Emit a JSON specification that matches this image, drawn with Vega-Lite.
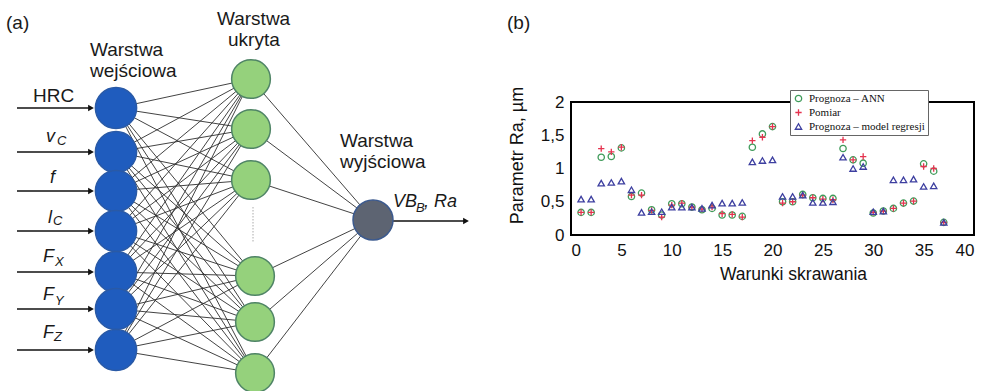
{
  "$schema": "https://vega.github.io/schema/vega-lite/v6.json",
  "padding": 0,
  "background": "white",
  "spacing": 0,
  "bounds": "flush",
  "config": {"view": {"stroke": null}, "font": "Liberation Sans"},
  "datasets": {
    "nodes": [
      {"layer": "in", "x": 116, "y": 108}, {"layer": "in", "x": 116, "y": 152}, {"layer": "in", "x": 116, "y": 191},
      {"layer": "in", "x": 116, "y": 231}, {"layer": "in", "x": 116, "y": 272}, {"layer": "in", "x": 116, "y": 309},
      {"layer": "in", "x": 116, "y": 350},
      {"layer": "hid", "x": 251, "y": 79}, {"layer": "hid", "x": 251, "y": 129}, {"layer": "hid", "x": 251, "y": 180},
      {"layer": "hid", "x": 255, "y": 276}, {"layer": "hid", "x": 255, "y": 322}, {"layer": "hid", "x": 255, "y": 373},
      {"layer": "out", "x": 373, "y": 220}
    ],
    "edges": [
      {"x": 116, "y": 108, "x2": 251, "y2": 79}, {"x": 116, "y": 108, "x2": 251, "y2": 129}, {"x": 116, "y": 108, "x2": 251, "y2": 180}, {"x": 116, "y": 108, "x2": 255, "y2": 276}, {"x": 116, "y": 108, "x2": 255, "y2": 322}, {"x": 116, "y": 108, "x2": 255, "y2": 373},
      {"x": 116, "y": 152, "x2": 251, "y2": 79}, {"x": 116, "y": 152, "x2": 251, "y2": 129}, {"x": 116, "y": 152, "x2": 251, "y2": 180}, {"x": 116, "y": 152, "x2": 255, "y2": 276}, {"x": 116, "y": 152, "x2": 255, "y2": 322}, {"x": 116, "y": 152, "x2": 255, "y2": 373},
      {"x": 116, "y": 191, "x2": 251, "y2": 79}, {"x": 116, "y": 191, "x2": 251, "y2": 129}, {"x": 116, "y": 191, "x2": 251, "y2": 180}, {"x": 116, "y": 191, "x2": 255, "y2": 276}, {"x": 116, "y": 191, "x2": 255, "y2": 322}, {"x": 116, "y": 191, "x2": 255, "y2": 373},
      {"x": 116, "y": 231, "x2": 251, "y2": 79}, {"x": 116, "y": 231, "x2": 251, "y2": 129}, {"x": 116, "y": 231, "x2": 251, "y2": 180}, {"x": 116, "y": 231, "x2": 255, "y2": 276}, {"x": 116, "y": 231, "x2": 255, "y2": 322}, {"x": 116, "y": 231, "x2": 255, "y2": 373},
      {"x": 116, "y": 272, "x2": 251, "y2": 79}, {"x": 116, "y": 272, "x2": 251, "y2": 129}, {"x": 116, "y": 272, "x2": 251, "y2": 180}, {"x": 116, "y": 272, "x2": 255, "y2": 276}, {"x": 116, "y": 272, "x2": 255, "y2": 322}, {"x": 116, "y": 272, "x2": 255, "y2": 373},
      {"x": 116, "y": 309, "x2": 251, "y2": 79}, {"x": 116, "y": 309, "x2": 251, "y2": 129}, {"x": 116, "y": 309, "x2": 251, "y2": 180}, {"x": 116, "y": 309, "x2": 255, "y2": 276}, {"x": 116, "y": 309, "x2": 255, "y2": 322}, {"x": 116, "y": 309, "x2": 255, "y2": 373},
      {"x": 116, "y": 350, "x2": 251, "y2": 79}, {"x": 116, "y": 350, "x2": 251, "y2": 129}, {"x": 116, "y": 350, "x2": 251, "y2": 180}, {"x": 116, "y": 350, "x2": 255, "y2": 276}, {"x": 116, "y": 350, "x2": 255, "y2": 322}, {"x": 116, "y": 350, "x2": 255, "y2": 373},
      {"x": 251, "y": 79, "x2": 373, "y2": 220}, {"x": 251, "y": 129, "x2": 373, "y2": 220}, {"x": 251, "y": 180, "x2": 373, "y2": 220},
      {"x": 255, "y": 276, "x2": 373, "y2": 220}, {"x": 255, "y": 322, "x2": 373, "y2": 220}, {"x": 255, "y": 373, "x2": 373, "y2": 220}
    ],
    "arrows": [
      {"x": 17, "y": 108, "x2": 90}, {"x": 17, "y": 152, "x2": 90}, {"x": 17, "y": 191, "x2": 90}, {"x": 17, "y": 231, "x2": 90},
      {"x": 17, "y": 272, "x2": 90}, {"x": 17, "y": 309, "x2": 90}, {"x": 17, "y": 350, "x2": 90}, {"x": 393, "y": 221, "x2": 464}
    ],
    "heads": [
      {"x": 91, "y": 108}, {"x": 91, "y": 152}, {"x": 91, "y": 191}, {"x": 91, "y": 231},
      {"x": 91, "y": 272}, {"x": 91, "y": 309}, {"x": 91, "y": 350}, {"x": 466, "y": 221}
    ],
    "dots": [{"x": 253, "y": 207, "y2": 243}],
    "upright": [
      {"x": 6, "y": 29, "t": "(a)"}, {"x": 507, "y": 29, "t": "(b)"},
      {"x": 90, "y": 56, "t": "Warstwa"}, {"x": 90, "y": 77, "t": "wejściowa"},
      {"x": 217, "y": 25, "t": "Warstwa"}, {"x": 228, "y": 46, "t": "ukryta"},
      {"x": 340, "y": 147, "t": "Warstwa"}, {"x": 340, "y": 168, "t": "wyjściowa"},
      {"x": 33, "y": 102, "t": "HRC"}
    ],
    "italic": [
      {"x": 46, "y": 142, "t": "v"}, {"x": 50, "y": 183, "t": "f"}, {"x": 48, "y": 223, "t": "l"},
      {"x": 43, "y": 262, "t": "F"}, {"x": 43, "y": 300, "t": "F"}, {"x": 43, "y": 338, "t": "F"},
      {"x": 393, "y": 207, "t": "VB"}, {"x": 424, "y": 207, "t": ", Ra"}
    ],
    "subs": [
      {"x": 57, "y": 145, "t": "C"}, {"x": 53, "y": 225, "t": "C"}, {"x": 55, "y": 266, "t": "X"},
      {"x": 55, "y": 305, "t": "Y"}, {"x": 54, "y": 341, "t": "Z"}, {"x": 416, "y": 212, "t": "B"}
    ],
    "xticks": [{"w": 5}, {"w": 10}, {"w": 15}, {"w": 20}, {"w": 25}, {"w": 30}, {"w": 35}],
    "yticks": [{"ra": 0.5}, {"ra": 1}, {"ra": 1.5}],
    "ra": [
      {"w": 1, "ra": 0.34, "s": "Prognoza – ANN"}, {"w": 2, "ra": 0.34, "s": "Prognoza – ANN"}, {"w": 3, "ra": 1.17, "s": "Prognoza – ANN"}, {"w": 4, "ra": 1.18, "s": "Prognoza – ANN"}, {"w": 5, "ra": 1.31, "s": "Prognoza – ANN"},
      {"w": 6, "ra": 0.58, "s": "Prognoza – ANN"}, {"w": 7, "ra": 0.63, "s": "Prognoza – ANN"}, {"w": 8, "ra": 0.38, "s": "Prognoza – ANN"}, {"w": 9, "ra": 0.30, "s": "Prognoza – ANN"}, {"w": 10, "ra": 0.47, "s": "Prognoza – ANN"},
      {"w": 11, "ra": 0.47, "s": "Prognoza – ANN"}, {"w": 12, "ra": 0.42, "s": "Prognoza – ANN"}, {"w": 13, "ra": 0.38, "s": "Prognoza – ANN"}, {"w": 14, "ra": 0.40, "s": "Prognoza – ANN"}, {"w": 15, "ra": 0.30, "s": "Prognoza – ANN"},
      {"w": 16, "ra": 0.30, "s": "Prognoza – ANN"}, {"w": 17, "ra": 0.28, "s": "Prognoza – ANN"}, {"w": 18, "ra": 1.32, "s": "Prognoza – ANN"}, {"w": 19, "ra": 1.52, "s": "Prognoza – ANN"}, {"w": 20, "ra": 1.63, "s": "Prognoza – ANN"},
      {"w": 21, "ra": 0.50, "s": "Prognoza – ANN"}, {"w": 22, "ra": 0.50, "s": "Prognoza – ANN"}, {"w": 23, "ra": 0.61, "s": "Prognoza – ANN"}, {"w": 24, "ra": 0.56, "s": "Prognoza – ANN"}, {"w": 25, "ra": 0.55, "s": "Prognoza – ANN"},
      {"w": 26, "ra": 0.55, "s": "Prognoza – ANN"}, {"w": 27, "ra": 1.30, "s": "Prognoza – ANN"}, {"w": 28, "ra": 1.13, "s": "Prognoza – ANN"}, {"w": 29, "ra": 1.08, "s": "Prognoza – ANN"}, {"w": 30, "ra": 0.33, "s": "Prognoza – ANN"},
      {"w": 31, "ra": 0.36, "s": "Prognoza – ANN"}, {"w": 32, "ra": 0.40, "s": "Prognoza – ANN"}, {"w": 33, "ra": 0.48, "s": "Prognoza – ANN"}, {"w": 34, "ra": 0.51, "s": "Prognoza – ANN"}, {"w": 35, "ra": 1.07, "s": "Prognoza – ANN"},
      {"w": 36, "ra": 0.96, "s": "Prognoza – ANN"}, {"w": 37, "ra": 0.19, "s": "Prognoza – ANN"},
      {"w": 1, "ra": 0.34, "s": "Pomiar"}, {"w": 2, "ra": 0.34, "s": "Pomiar"}, {"w": 3, "ra": 1.30, "s": "Pomiar"}, {"w": 4, "ra": 1.25, "s": "Pomiar"}, {"w": 5, "ra": 1.32, "s": "Pomiar"},
      {"w": 6, "ra": 0.60, "s": "Pomiar"}, {"w": 7, "ra": 0.60, "s": "Pomiar"}, {"w": 8, "ra": 0.37, "s": "Pomiar"}, {"w": 9, "ra": 0.27, "s": "Pomiar"}, {"w": 10, "ra": 0.45, "s": "Pomiar"},
      {"w": 11, "ra": 0.48, "s": "Pomiar"}, {"w": 12, "ra": 0.42, "s": "Pomiar"}, {"w": 13, "ra": 0.39, "s": "Pomiar"}, {"w": 14, "ra": 0.42, "s": "Pomiar"}, {"w": 15, "ra": 0.32, "s": "Pomiar"},
      {"w": 16, "ra": 0.31, "s": "Pomiar"}, {"w": 17, "ra": 0.27, "s": "Pomiar"}, {"w": 18, "ra": 1.42, "s": "Pomiar"}, {"w": 19, "ra": 1.47, "s": "Pomiar"}, {"w": 20, "ra": 1.63, "s": "Pomiar"},
      {"w": 21, "ra": 0.48, "s": "Pomiar"}, {"w": 22, "ra": 0.50, "s": "Pomiar"}, {"w": 23, "ra": 0.60, "s": "Pomiar"}, {"w": 24, "ra": 0.56, "s": "Pomiar"}, {"w": 25, "ra": 0.54, "s": "Pomiar"},
      {"w": 26, "ra": 0.53, "s": "Pomiar"}, {"w": 27, "ra": 1.43, "s": "Pomiar"}, {"w": 28, "ra": 1.13, "s": "Pomiar"}, {"w": 29, "ra": 1.18, "s": "Pomiar"}, {"w": 30, "ra": 0.34, "s": "Pomiar"},
      {"w": 31, "ra": 0.36, "s": "Pomiar"}, {"w": 32, "ra": 0.40, "s": "Pomiar"}, {"w": 33, "ra": 0.48, "s": "Pomiar"}, {"w": 34, "ra": 0.51, "s": "Pomiar"}, {"w": 35, "ra": 1.03, "s": "Pomiar"},
      {"w": 36, "ra": 1.00, "s": "Pomiar"}, {"w": 37, "ra": 0.19, "s": "Pomiar"},
      {"w": 1, "ra": 0.54, "s": "Prognoza – model regresji"}, {"w": 2, "ra": 0.54, "s": "Prognoza – model regresji"}, {"w": 3, "ra": 0.78, "s": "Prognoza – model regresji"}, {"w": 4, "ra": 0.79, "s": "Prognoza – model regresji"}, {"w": 5, "ra": 0.81, "s": "Prognoza – model regresji"},
      {"w": 6, "ra": 0.68, "s": "Prognoza – model regresji"}, {"w": 7, "ra": 0.34, "s": "Prognoza – model regresji"}, {"w": 8, "ra": 0.35, "s": "Prognoza – model regresji"}, {"w": 9, "ra": 0.35, "s": "Prognoza – model regresji"}, {"w": 10, "ra": 0.42, "s": "Prognoza – model regresji"},
      {"w": 11, "ra": 0.42, "s": "Prognoza – model regresji"}, {"w": 12, "ra": 0.42, "s": "Prognoza – model regresji"}, {"w": 13, "ra": 0.40, "s": "Prognoza – model regresji"}, {"w": 14, "ra": 0.45, "s": "Prognoza – model regresji"}, {"w": 15, "ra": 0.48, "s": "Prognoza – model regresji"},
      {"w": 16, "ra": 0.48, "s": "Prognoza – model regresji"}, {"w": 17, "ra": 0.49, "s": "Prognoza – model regresji"}, {"w": 18, "ra": 1.10, "s": "Prognoza – model regresji"}, {"w": 19, "ra": 1.12, "s": "Prognoza – model regresji"}, {"w": 20, "ra": 1.13, "s": "Prognoza – model regresji"},
      {"w": 21, "ra": 0.58, "s": "Prognoza – model regresji"}, {"w": 22, "ra": 0.58, "s": "Prognoza – model regresji"}, {"w": 23, "ra": 0.60, "s": "Prognoza – model regresji"}, {"w": 24, "ra": 0.49, "s": "Prognoza – model regresji"}, {"w": 25, "ra": 0.49, "s": "Prognoza – model regresji"},
      {"w": 26, "ra": 0.50, "s": "Prognoza – model regresji"}, {"w": 27, "ra": 1.17, "s": "Prognoza – model regresji"}, {"w": 28, "ra": 1.00, "s": "Prognoza – model regresji"}, {"w": 29, "ra": 1.03, "s": "Prognoza – model regresji"}, {"w": 30, "ra": 0.35, "s": "Prognoza – model regresji"},
      {"w": 31, "ra": 0.36, "s": "Prognoza – model regresji"}, {"w": 32, "ra": 0.83, "s": "Prognoza – model regresji"}, {"w": 33, "ra": 0.83, "s": "Prognoza – model regresji"}, {"w": 34, "ra": 0.84, "s": "Prognoza – model regresji"}, {"w": 35, "ra": 0.73, "s": "Prognoza – model regresji"},
      {"w": 36, "ra": 0.74, "s": "Prognoza – model regresji"}, {"w": 37, "ra": 0.19, "s": "Prognoza – model regresji"}
    ]
  },
  "hconcat": [
    {
      "width": 571,
      "height": 391,
      "encoding": {
        "x": {"field": "x", "type": "quantitative", "scale": {"domain": [0, 571], "nice": false, "zero": false}, "axis": null},
        "y": {"field": "y", "type": "quantitative", "scale": {"domain": [0, 391], "reverse": true, "nice": false, "zero": false}, "axis": null}
      },
      "layer": [
        {"data": {"name": "edges"}, "mark": {"type": "rule", "color": "#2e2e2e", "strokeWidth": 0.9}, "encoding": {"x2": {"field": "x2"}, "y2": {"field": "y2"}}},
        {"data": {"name": "arrows"}, "mark": {"type": "rule", "color": "#111", "strokeWidth": 1.3}, "encoding": {"x2": {"field": "x2"}}},
        {"data": {"name": "heads"}, "mark": {"type": "point", "shape": "triangle-right", "filled": true, "color": "#111", "size": 45, "opacity": 1}},
        {"data": {"name": "dots"}, "mark": {"type": "rule", "color": "#aaaaaa", "strokeWidth": 1, "strokeDash": [1.5, 1.5]}, "encoding": {"y2": {"field": "y2"}}},
        {"data": {"name": "nodes"}, "transform": [{"filter": "datum.layer == 'in'"}], "mark": {"type": "point", "shape": "circle", "filled": true, "fill": "#1f5cbe", "stroke": "#2a5aa6", "strokeWidth": 1.5, "size": 1700, "opacity": 1}},
        {"data": {"name": "nodes"}, "transform": [{"filter": "datum.layer == 'hid'"}], "mark": {"type": "point", "shape": "circle", "filled": true, "fill": "#95d17c", "stroke": "#4f8466", "strokeWidth": 1.5, "size": 1500, "opacity": 1}},
        {"data": {"name": "nodes"}, "transform": [{"filter": "datum.layer == 'out'"}], "mark": {"type": "point", "shape": "circle", "filled": true, "fill": "#5d6472", "stroke": "#3c5a8e", "strokeWidth": 1.5, "size": 1600, "opacity": 1}},
        {"data": {"name": "upright"}, "mark": {"type": "text", "align": "left", "baseline": "alphabetic", "fontSize": 19, "color": "#1a1a1a", "font": "Liberation Sans"}, "encoding": {"text": {"field": "t"}}},
        {"data": {"name": "italic"}, "mark": {"type": "text", "align": "left", "baseline": "alphabetic", "fontSize": 18, "fontStyle": "italic", "color": "#1a1a1a", "font": "Liberation Sans"}, "encoding": {"text": {"field": "t"}}},
        {"data": {"name": "subs"}, "mark": {"type": "text", "align": "left", "baseline": "alphabetic", "fontSize": 13, "fontStyle": "italic", "color": "#1a1a1a", "font": "Liberation Sans"}, "encoding": {"text": {"field": "t"}}}
      ]
    },
    {
      "width": 403,
      "height": 235,
      "data": {"name": "ra"},
      "encoding": {
        "x": {"field": "w", "type": "quantitative", "scale": {"domain": [0, 40], "nice": false},
          "axis": {"orient": "bottom", "values": [0, 5, 10, 15, 20, 25, 30, 35, 40], "domain": false, "ticks": false, "grid": false,
            "labelFontSize": 17, "labelColor": "#111", "labelPadding": 7, "labelFont": "Liberation Sans",
            "title": "Warunki skrawania", "titleFontSize": 17.5, "titleFontWeight": "normal", "titleColor": "#111", "titleFont": "Liberation Sans",
            "titleX": 222, "titleY": 44, "titleBaseline": "alphabetic"}},
        "y": {"field": "ra", "type": "quantitative", "scale": {"domain": [0, 2], "range": [235, 102], "nice": false},
          "axis": {"orient": "left", "values": [0, 0.5, 1, 1.5, 2], "labelExpr": "replace(toString(datum.value), '.', ',')", "domain": false, "ticks": false, "grid": false,
            "labelFontSize": 17, "labelColor": "#111", "labelPadding": 7, "labelFont": "Liberation Sans",
            "title": "Parametr Ra,  µm", "titleFontSize": 18, "titleFontWeight": "normal", "titleColor": "#111", "titleFont": "Liberation Sans",
            "titleX": -49, "titleY": 155, "titleBaseline": "alphabetic", "titleAngle": 270}}
      },
      "layer": [
        {
          "mark": {"type": "rect", "fill": null, "stroke": "black", "strokeWidth": 1.6},
          "encoding": {
            "x": {"datum": 0, "type": "quantitative"},
            "x2": {"datum": 40},
            "y": {"datum": 0, "type": "quantitative"},
            "y2": {"datum": 2}
          }
        },
        {
          "data": {"name": "xticks"},
          "mark": {"type": "tick", "orient": "vertical", "size": 5, "thickness": 1, "color": "black", "yOffset": -2.5, "opacity": 1},
          "encoding": {"y": {"datum": 0, "type": "quantitative"}}
        },
        {
          "data": {"name": "xticks"},
          "mark": {"type": "tick", "orient": "vertical", "size": 5, "thickness": 1, "color": "black", "yOffset": 2.5, "opacity": 1},
          "encoding": {"y": {"datum": 2, "type": "quantitative"}}
        },
        {
          "data": {"name": "yticks"},
          "mark": {"type": "tick", "orient": "horizontal", "size": 5, "thickness": 1, "color": "black", "xOffset": 2.5, "opacity": 1},
          "encoding": {"x": {"datum": 0, "type": "quantitative"}}
        },
        {
          "data": {"name": "yticks"},
          "mark": {"type": "tick", "orient": "horizontal", "size": 5, "thickness": 1, "color": "black", "xOffset": -2.5, "opacity": 1},
          "encoding": {"x": {"datum": 40, "type": "quantitative"}}
        },
        {
          "mark": {"type": "point", "filled": false, "size": 40, "strokeWidth": 1.3, "opacity": 1},
          "encoding": {
            "color": {"field": "s", "type": "nominal",
              "scale": {"domain": ["Prognoza – ANN", "Pomiar", "Prognoza – model regresji"], "range": ["#3f9b5a", "#e5334f", "#3d3fa0"]},
              "legend": {"orient": "none", "legendX": 790, "legendY": 90, "title": null, "padding": 3, "strokeColor": "#666", "fillColor": "white",
                "labelFont": "Liberation Serif", "labelFontSize": 11, "labelColor": "#111", "symbolSize": 40, "symbolStrokeWidth": 1.3, "rowPadding": 1, "labelOffset": 5,
                "labelExpr": "datum.label + '\u00a0\u00a0\u00a0\u00a0\u00a0\u00a0\u00a0\u00a0\u00a0\u00a0\u00a0\u00a0\u00a0\u00a0\u00a0\u00a0'"}},
            "shape": {"field": "s", "type": "nominal",
              "scale": {"domain": ["Prognoza – ANN", "Pomiar", "Prognoza – model regresji"], "range": ["circle", "M-1,0L1,0M0,-1L0,1", "triangle-up"]}}
          }
        }
      ]
    }
  ]
}
